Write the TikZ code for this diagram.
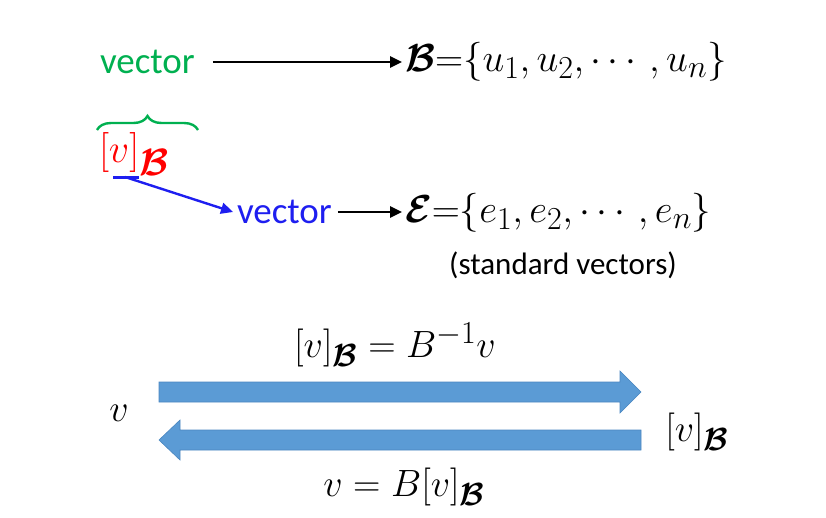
\documentclass[tikz,border=0pt]{standalone}
\usepackage{fix-cm}
\usepackage{amsmath,amssymb,bm}
\usepackage{fontspec}
\setmainfont{Carlito}
\DeclareMathSizes{38}{38}{32}{24}
\DeclareMathSizes{39}{39}{32}{24}
\DeclareMathSizes{40}{40}{38}{28}
\usetikzlibrary{arrows.meta,decorations.pathreplacing}
\definecolor{vgreen}{HTML}{00B050}
\definecolor{vred}{HTML}{FF0000}
\definecolor{vblue}{HTML}{1E1EF0}
\definecolor{afill}{HTML}{5B9BD5}
\definecolor{aline}{HTML}{4A86C0}
\newcommand{\cB}{\bm{\mathcal{B}}}
\newcommand{\cE}{\bm{\mathcal{E}}}
\tikzset{
  txt/.style={inner sep=0pt, outer sep=0pt},
  big/.style={font=\fontsize{37}{44}\selectfont},
  med/.style={font=\fontsize{38}{44}\selectfont},
  setf/.style={font=\fontsize{39}{46}\selectfont},
  redf/.style={font=\fontsize{40}{46}\selectfont},
  small/.style={font=\fontsize{31}{36}\selectfont},
  conn/.style={line width=2.6pt, -{Triangle[length=12pt,width=11pt]}},
  fat/.style={fill=afill, draw=aline, line width=0.6pt},
}
\begin{document}
\begin{tikzpicture}[x=1pt,y=-1pt]
\useasboundingbox (0,0) rectangle (826,517);
% top row
\node[txt,big,text=vgreen,anchor=west] (vec1) at (100,62) {vector};
\node[txt,setf,anchor=west] (Bset) at (405,62) {$\cB{=}\{u_1,u_2,\cdots,u_n\}$};
\draw[conn] ([xshift=18pt]vec1.east) -- ([xshift=-3pt]Bset.west |- vec1.east);
% brace and [v]_B
\draw[vgreen, line width=2.4pt, decorate, decoration={brace, amplitude=14pt, aspect=0.5}] (97,130) -- (198,130);
\node[txt,redf,text=vred,anchor=west] (vB) at (99,154) {$[v]_{\cB}$};
\coordinate (ul1) at (113,177);
\coordinate (ul2) at (139,177);
\draw[vblue, line width=3pt] (ul1) -- (ul2);
% second row
\node[txt,big,text=vblue,anchor=west] (vec2) at (237,212) {vector};
\draw[vblue, line width=2.4pt, -{Triangle[length=12pt,width=11pt]}] (125,177) -- ([xshift=-4pt]vec2.west);
\node[txt,setf,anchor=west] (Eset) at (405,213) {$\cE{=}\{e_1,e_2,\cdots,e_n\}$};
\draw[conn] ([xshift=6pt]vec2.east) -- ([xshift=-3pt]Eset.west |- vec2.east);
\node[txt,small,anchor=center] (std) at (563,265) {(standard vectors)};
% bottom
\node[txt,med,anchor=center] (top) at (395,345) {$[v]_{\cB} = B^{-1}v$};
\node[txt,med,anchor=center] (v) at (119,413) {$v$};
\node[txt,med,anchor=center] (vBr) at (697,432) {$[v]_{\cB}$};
\node[txt,med,anchor=center] (bot) at (404,487) {$v = B[v]_{\cB}$};
\draw[fat] (159,382) -- (620,382) -- (620,371) -- (641,392) -- (620,413) -- (620,402) -- (159,402) -- cycle;
\draw[fat] (641,430) -- (180,430) -- (180,420) -- (159,440) -- (180,460) -- (180,450) -- (641,450) -- cycle;
\end{tikzpicture}
\end{document}
